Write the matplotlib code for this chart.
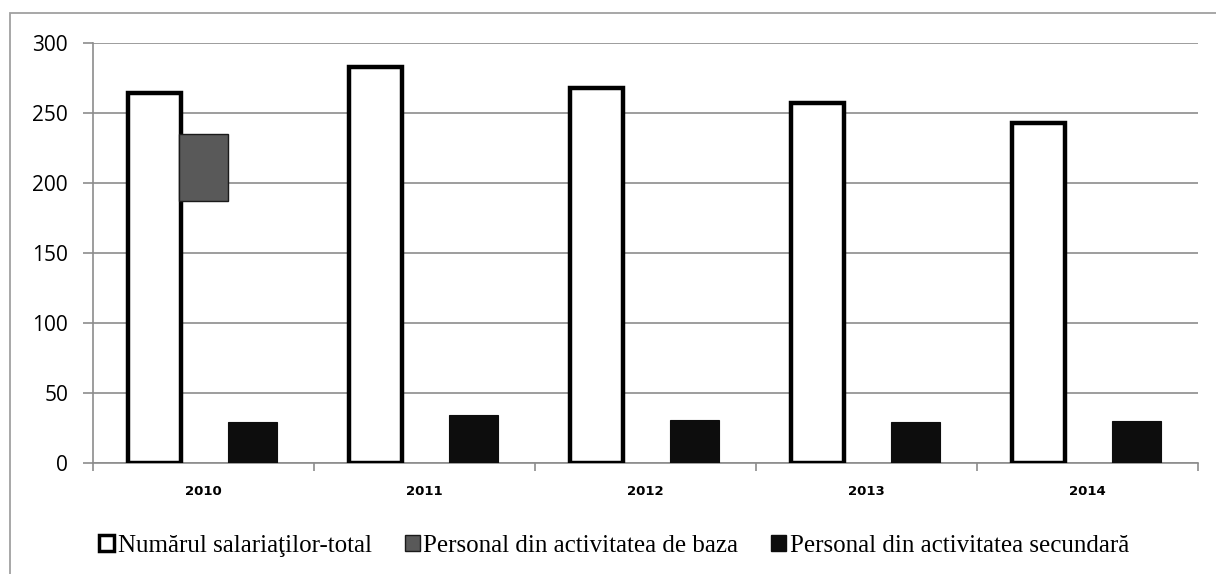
import matplotlib
matplotlib.use("Agg")
import matplotlib.pyplot as plt
import numpy as np
from matplotlib.patches import Rectangle

years = ["2010", "2011", "2012", "2013", "2014"]
total = [264, 283, 268, 257, 243]
baza_top = [235, np.nan, np.nan, np.nan, np.nan]
baza_bottom = [187, np.nan, np.nan, np.nan, np.nan]
secundar = [29, 34, 31, 29, 30]
labels = ["Numărul salariaţilor-total", "Personal din activitatea de baza",
          "Personal din activitatea secundară"]

fig = plt.figure(figsize=(12.16, 5.74), dpi=100)
W, H = 1216, 574
ax = fig.add_axes([93 / W, 1 - 463 / H, (1198 - 93) / W, (463 - 43) / H])

x = np.arange(len(years))
w = 0.222
ax.bar(x - w, total, w * 1.08, color="white", edgecolor="black", linewidth=3.2,
       label=labels[0], zorder=3)
baza_h = [t - b for t, b in zip(baza_top, baza_bottom)]
ax.bar(x, baza_h, w, bottom=baza_bottom, color="#595959", edgecolor="#1a1a1a",
       linewidth=1.0, label=labels[1], zorder=3)
ax.bar(x + w, secundar, w, color="#0d0d0d", edgecolor="#0d0d0d", linewidth=0.8,
       label=labels[2], zorder=3)

ax.set_xlim(-0.5, len(years) - 0.5)
ax.set_ylim(0, 300)
ax.set_yticks(range(0, 301, 50))
ax.yaxis.grid(True, color="#8c8c8c", linewidth=1.2, zorder=0)
ax.set_axisbelow(True)
for s in ["top", "right"]:
    ax.spines[s].set_visible(False)
ax.spines["left"].set_color("#8c8c8c")
ax.spines["bottom"].set_color("#8c8c8c")
ax.spines["left"].set_linewidth(1.2)
ax.spines["bottom"].set_linewidth(1.2)

ax.set_xticks(x)
ax.set_xticklabels(years, fontweight="bold", fontsize=9.5, family="DejaVu Sans")
ax.tick_params(axis="x", length=0, pad=16)
ax.set_xticks(np.arange(-0.5, len(years) + 0.5, 1), minor=True)
ax.tick_params(axis="x", which="minor", length=6, color="#8c8c8c", width=1.2)
ax.tick_params(axis="y", length=7, color="#8c8c8c", width=1.2, labelsize=15, pad=11)
for lab in ax.get_yticklabels():
    lab.set_family("Open Sans")

leg = fig.legend(loc="center", bbox_to_anchor=(0.505, 1 - 546 / H), ncol=3,
                 frameon=False, prop={"family": "Liberation Serif", "size": 18},
                 handlelength=0.6, handleheight=0.6, handletextpad=0.15,
                 columnspacing=1.3)
for h in leg.legend_handles:
    h.set_linewidth(2.5 if h.get_facecolor()[0] > 0.9 else 1)

fig.patches.append(Rectangle((10 / W, -0.01), 1.02, 1 - 13 / H + 0.01,
                             transform=fig.transFigure, fill=False,
                             edgecolor="#a0a0a0", linewidth=1.3))

fig.savefig("out.png", dpi=100)
